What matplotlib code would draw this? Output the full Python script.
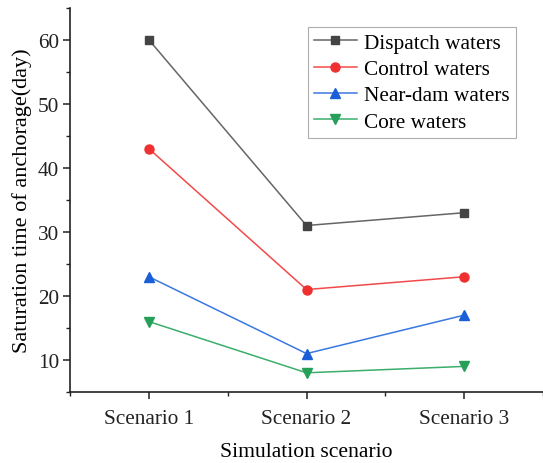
import numpy as np
import matplotlib
matplotlib.use("Agg")
import matplotlib.pyplot as plt
from matplotlib.ticker import MultipleLocator

scenarios = ["Scenario 1", "Scenario 2", "Scenario 3"]
dispatch = [60, 31, 33]
control = [43, 21, 23]
near_dam = [23, 11, 17]
core = [16, 8, 9]

plt.rcParams["font.family"] = ["Liberation Serif", "DejaVu Serif"]
plt.rcParams["font.size"] = 15.3

fig = plt.figure(figsize=(5.43, 4.64), dpi=100)
ax = fig.add_axes([0.129, 0.153, 0.871, 0.828])

x = np.arange(1, len(scenarios) + 1)
ax.plot(x, dispatch, color="#666666", marker="s", mfc="#444444", mec="#444444",
        ms=6, lw=1.1, label="Dispatch waters")
ax.plot(x, control, color="#f24a4a", marker="o", mfc="#f03030", mec="#f03030",
        ms=6.5, lw=1.1, label="Control waters")
ax.plot(x, near_dam, color="#3a78e0", marker="^", mfc="#1a5fd8", mec="#1a5fd8",
        ms=7, lw=1.1, label="Near-dam waters")
ax.plot(x, core, color="#3aae6a", marker="v", mfc="#25a058", mec="#25a058",
        ms=7, lw=1.1, label="Core waters")

ax.set_xlim(0.5, 3.5)
ax.set_ylim(5, 65)
ax.set_xticks(x)
ax.set_xticklabels(scenarios)
ax.xaxis.set_minor_locator(MultipleLocator(0.5))
ax.yaxis.set_minor_locator(MultipleLocator(5))
ax.set_yticks([10, 20, 30, 40, 50, 60])

for s in ("top", "right"):
    ax.spines[s].set_visible(False)
for s in ("left", "bottom"):
    ax.spines[s].set_linewidth(1.2)
    ax.spines[s].set_color("#222222")
ax.tick_params(which="major", direction="out", length=5, width=1.1, colors="#222222",
               labelcolor="#222222")
ax.tick_params(which="minor", direction="out", length=3, width=1.0, colors="#222222")
ax.tick_params(axis="x", pad=7)
ax.tick_params(axis="y", pad=3)

ax.set_xlabel("Simulation scenario", fontsize=15.6, labelpad=10)
ax.set_ylabel("Saturation time of anchorage(day)", fontsize=16, labelpad=4)

leg = ax.legend(loc="upper right", bbox_to_anchor=(0.943, 0.951), frameon=True,
                fancybox=False, handlelength=2.0, borderpad=0.3, labelspacing=0.3,
                handletextpad=0.35, borderaxespad=0, fontsize=15.3)
leg.get_frame().set_edgecolor("#999999")
leg.get_frame().set_linewidth(0.8)

fig.savefig("out.png", dpi=100)
